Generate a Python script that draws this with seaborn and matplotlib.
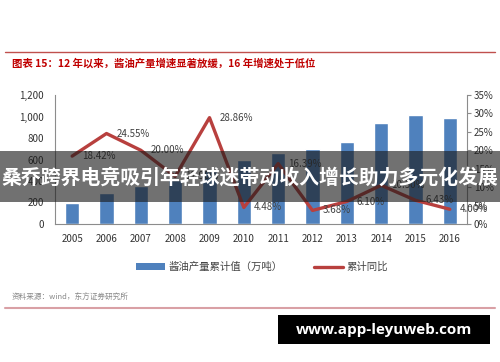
import numpy as np
import pandas as pd
import matplotlib
matplotlib.use("Agg")
import matplotlib.pyplot as plt
from matplotlib.patches import Patch, Rectangle
from matplotlib.lines import Line2D
import seaborn as sns

years = ["2005", "2006", "2007", "2008", "2009", "2010", "2011", "2012",
         "2013", "2014", "2015", "2016"]
output = [195, 290, 350, 410, 505, 595, 665, 700, 760, 940, 1012, 988]
yoy = [18.42, 24.55, 20.00, 12.90, 28.86, 4.48, 16.39, 3.68, 6.10, 10.50, 6.43, 4.00]
yoy_labels = ["18.42%", "24.55%", "20.00%", "12.90%", "28.86%", "4.48%", "16.39%",
              "3.68%", "6.10%", "10.50%", "6.43%", "4.00%"]
left_ticks = [0, 200, 400, 600, 800, 1000, 1200]
right_ticks = [0, 5, 10, 15, 20, 25, 30, 35]

title = "图表 15：12 年以来，酱油产量增速显著放缓，16 年增速处于低位"
bar_name = "酱油产量累计值（万吨）"
line_name = "累计同比"
source = "资料来源：wind，东方证券研究所"
banner = "桑乔跨界电竞吸引年轻球迷带动收入增长助力多元化发展"
watermark = "www.app-leyuweb.com"

sns.set_style("white")
plt.rcParams["font.family"] = ["Noto Sans CJK SC", "DejaVu Sans"]

df = pd.DataFrame({"year": years, "output": output, "yoy": yoy,
                   "pos": np.arange(len(years))})

W, H = 500, 362
fig = plt.figure(figsize=(W / 100, H / 100), dpi=100)
ax = fig.add_axes([55 / W, 1 - 224 / H, (467 - 55) / W, (224 - 95) / H])

bar_color = "#4F81BD"
line_color = "#B8403E"
grey = "#8C8C8C"

sns.barplot(data=df, x="year", y="output", color=bar_color, width=0.41,
            saturation=1, ax=ax)
ax.set_xlim(-0.5, len(years) - 0.5)
ax.set_ylim(0, 1200)
ax.set_yticks(left_ticks)
ax.set_yticklabels([f"{v:,}" for v in left_ticks], fontsize=7, color="#333333")
ax.set_xlabel("")
ax.set_ylabel("")
ax.tick_params(axis="x", labelsize=7, colors="#333333", length=0, pad=7)
ax.tick_params(axis="y", length=0, pad=8)
ax.set_xticks(np.arange(-0.5, len(years), 1.0), minor=True)
ax.tick_params(axis="x", which="minor", length=3, color=grey, direction="out")

ax2 = ax.twinx()
sns.lineplot(data=df, x="pos", y="yoy", color=line_color, linewidth=2.4, ax=ax2)
ax2.set_ylim(0, 35)
ax2.set_yticks(right_ticks)
ax2.set_yticklabels([f"{v}%" for v in right_ticks], fontsize=7, color="#333333")
ax2.set_ylabel("")
ax2.set_xlabel("")
ax2.tick_params(axis="y", length=3, color=grey, direction="out", pad=2)
ax2.set_xlim(-0.5, len(years) - 0.5)

for x, y, lab in zip(df["pos"], yoy, yoy_labels):
    ax2.annotate(lab, (x, y), xytext=(7, 0), textcoords="offset points",
                 ha="left", va="center", fontsize=7, color="#404040")

for a in (ax, ax2):
    a.spines["top"].set_visible(False)
    for s in ["left", "right", "bottom"]:
        a.spines[s].set_color(grey)
        a.spines[s].set_linewidth(0.8)
ax.spines["right"].set_visible(False)
ax2.spines["left"].set_visible(False)
ax2.spines["bottom"].set_visible(False)

handles = [Patch(facecolor=bar_color, edgecolor="none", label=bar_name),
           Line2D([0], [0], color=line_color, linewidth=2.4, label=line_name)]
fig.legend(handles=handles, loc="center", bbox_to_anchor=(262 / W, 1 - 267 / H),
           ncol=2, frameon=False, fontsize=7.5, handlelength=2.8,
           handleheight=0.6, columnspacing=3.0, handletextpad=0.3,
           labelcolor="#444444")

fig.add_artist(Line2D([5 / W, 495 / W], [1 - 52 / H] * 2, color="#C0504D",
                      linewidth=1.0, transform=fig.transFigure))
fig.text(12 / W, 1 - 63 / H, title, fontsize=7.5, fontweight="bold",
         color="#C00000", ha="left", va="center")

fig.text(12 / W, 1 - 298 / H, source, fontsize=5.5, color="#888888",
         ha="left", va="center")
fig.add_artist(Line2D([5 / W, 495 / W], [1 - 308 / H] * 2, color="#D9A0A5",
                      linewidth=1.5, transform=fig.transFigure))

fig.add_artist(Rectangle((0, 1 - 202 / H), 1, 51 / H, transform=fig.transFigure,
                         facecolor="#1a1a1a", alpha=0.62, edgecolor="none", zorder=10))
fig.text(0.5, 1 - 177 / H, banner, fontsize=14.3, fontweight="bold",
         color="white", ha="center", va="center", zorder=11)

fig.add_artist(Rectangle((278 / W, 1 - 344 / H), 212 / W, 29 / H,
                         transform=fig.transFigure, facecolor="black",
                         edgecolor="none", zorder=10))
fig.text(384 / W, 1 - 330 / H, watermark, fontsize=11, fontweight="bold",
         color="white", ha="center", va="center", zorder=11,
         family=["Open Sans", "DejaVu Sans"])

fig.savefig("out.png", dpi=100)
